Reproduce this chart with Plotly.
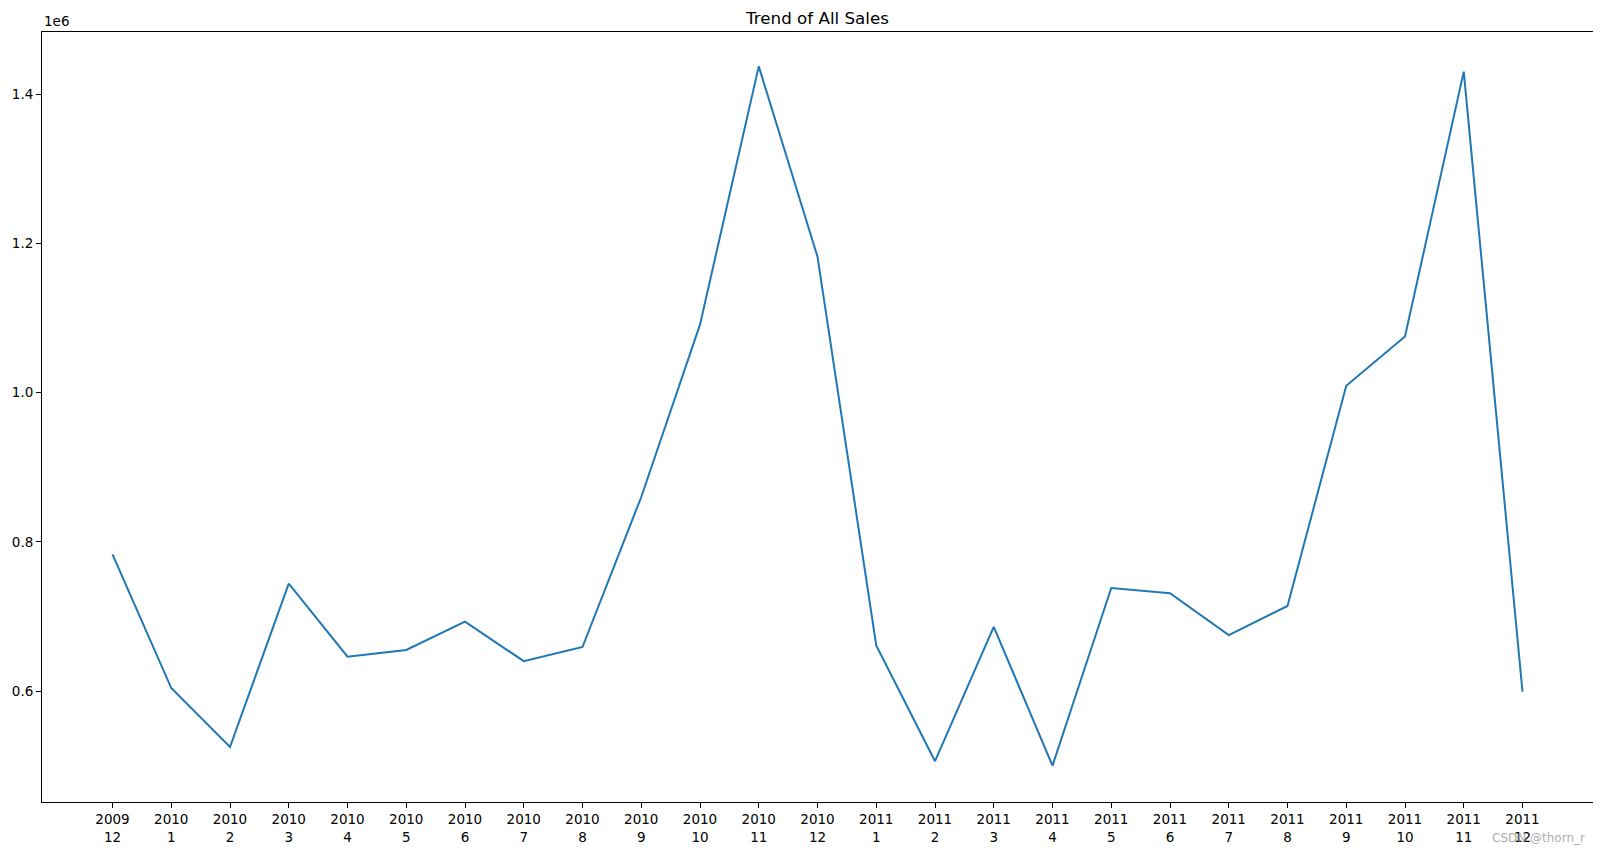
import plotly.graph_objects as go

# monthly total sales, Dec 2009 - Dec 2011
years = ["2009"] + ["2010"] * 12 + ["2011"] * 12
months = [12] + list(range(1, 13)) + list(range(1, 13))
sales = [
    783000, 604000, 525000, 744000, 646000, 655000, 693000, 640000, 659000,
    860000, 1091000, 1437000, 1182000,
    661000, 506000, 686000, 500000, 738000, 731000, 675000, 714000,
    1009000, 1075000, 1430000, 599000,
]
tick_labels = [f"{y}<br>{m}" for y, m in zip(years, months)]
y_ticks = [600000, 800000, 1000000, 1200000, 1400000]
y_tick_text = ["0.6", "0.8", "1.0", "1.2", "1.4"]

x = list(range(len(sales)))

fig = go.Figure()
fig.add_trace(go.Scatter(
    x=x, y=sales, mode="lines",
    line=dict(color="#1f77b4", width=2),
))

axis_style = dict(
    showline=True, linecolor="black", linewidth=1, mirror=True,
    showgrid=False, zeroline=False,
    ticks="outside", ticklen=5, tickwidth=1, tickcolor="black",
    tickfont=dict(family="DejaVu Sans", size=13.5, color="black"),
)

# page body adds an 8px offset, so the figure is a bit smaller than the window
W, H = 1593, 844
fig.update_layout(
    width=W, height=H,
    margin=dict(l=34, r=8, t=24, b=50, autoexpand=False),
    paper_bgcolor="white", plot_bgcolor="white",
    showlegend=False,
    title=dict(text="Trend of All Sales", x=(34 + W - 8) / 2 / W, xanchor="center",
               y=1 - 10 / H, yanchor="middle",
               font=dict(family="DejaVu Sans", size=16.7, color="black")),
    font=dict(family="DejaVu Sans", color="black"),
)
fig.update_xaxes(range=[-1.2, 25.2], tickvals=x, ticktext=tick_labels, **axis_style)
fig.update_yaxes(range=[451300, 1483100], tickvals=y_ticks, ticktext=y_tick_text, **axis_style)

fig.add_annotation(text="1e6", xref="paper", yref="paper", x=0, y=1, xanchor="left",
                   yanchor="bottom", yshift=1, showarrow=False,
                   font=dict(family="DejaVu Sans", size=13.5, color="black"))
fig.add_annotation(text="CSDN @thorn_r", xref="paper", yref="paper", x=1, y=0,
                   xanchor="right", yanchor="top", xshift=-6, yshift=-27, showarrow=False,
                   font=dict(family="DejaVu Sans", size=12, color="rgba(150,150,150,0.8)"))

fig.write_html("out.html")
